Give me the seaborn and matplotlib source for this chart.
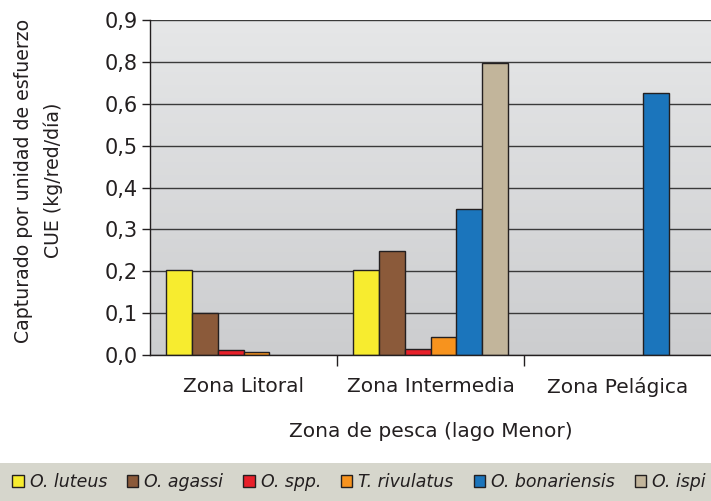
import numpy as np
import pandas as pd
import matplotlib
matplotlib.use("Agg")
import matplotlib.pyplot as plt
import seaborn as sns
from matplotlib.patches import Rectangle, Patch
from matplotlib.colors import LinearSegmentedColormap

zonas = ["Zona Litoral", "Zona Intermedia", "Zona Pelágica"]
especies = ["O. luteus", "O. agassi", "O. spp.", "T. rivulatus", "O. bonariensis", "O. ispi"]
colores = ["#F7EC2F", "#8B5A3A", "#E8202A", "#F7931E", "#1B75BC", "#C2B59B"]
litoral = [0.202, 0.100, 0.012, 0.0065, np.nan, np.nan]
intermedia = [0.202, 0.249, 0.0135, 0.043, 0.348, 0.697]
pelagica = [np.nan, np.nan, np.nan, np.nan, 0.625, np.nan]
# tick positions and the labels exactly as printed on the original chart
yticks = [0.0, 0.1, 0.2, 0.3, 0.4, 0.5, 0.6, 0.7, 0.8]
ytick_labels = ["0,0", "0,1", "0,2", "0,3", "0,4", "0,5", "0,6", "0,8", "0,9"]

rows = []
for z, vals in zip(zonas, [litoral, intermedia, pelagica]):
    for e, v in zip(especies, vals):
        rows.append({"zona": z, "especie": e, "cue": v})
df = pd.DataFrame(rows)

sns.set_theme(style="white")
plt.rcParams["font.family"] = ["DejaVu Sans"]

fig = plt.figure(figsize=(7.11, 5.01), dpi=100)
ax = fig.add_axes([150 / 711, 1 - 355 / 501, 561 / 711, 335 / 501])

grad = np.linspace(0, 1, 256).reshape(-1, 1)
cmap = LinearSegmentedColormap.from_list("bg", ["#CCCDCF", "#E6E7E8"])
ax.imshow(grad, extent=[0, 1, 0, 1], transform=ax.transAxes, cmap=cmap,
          origin="lower", aspect="auto", zorder=0)

sns.barplot(data=df, x="zona", y="cue", hue="especie", hue_order=especies,
            order=zonas, palette=colores, saturation=1, width=0.83, gap=0,
            edgecolor="#231F20", linewidth=1.0, ax=ax, legend=False,
            errorbar=None, zorder=3)

ax.set_xlim(-0.5, 2.5)
ax.set_ylim(0, 0.8)
ax.set_yticks(yticks)
ax.set_yticklabels(ytick_labels, fontsize=15, color="#231F20")
for y in yticks:
    ax.axhline(y, color="#3A3A3A", lw=1.0, zorder=1)
ax.tick_params(axis="y", direction="out", length=6, width=1, color="#231F20", pad=3, left=True)
ax.set_xticks([0, 1, 2])
ax.set_xticklabels(zonas, fontsize=14.5, color="#231F20")
ax.set_xticks([0.5, 1.5], minor=True)
ax.tick_params(axis="x", which="major", length=0, pad=16)
ax.tick_params(axis="x", which="minor", direction="out", length=8, width=1, color="#231F20", bottom=True)

for s in ["top", "right"]:
    ax.spines[s].set_visible(False)
for s in ["left", "bottom"]:
    ax.spines[s].set_color("#231F20")
    ax.spines[s].set_linewidth(1.0)
    ax.spines[s].set_zorder(4)

ax.set_xlabel("Zona de pesca (lago Menor)", fontsize=14.5, color="#231F20", labelpad=18)
ax.set_ylabel("Capturado por unidad de esfuerzo\nCUE (kg/red/día)", fontsize=13.6,
              color="#231F20", linespacing=1.65)
ax.yaxis.set_label_coords(-0.155, 0.52)

fig.patches.append(Rectangle((0, 0), 1, 38 / 501, transform=fig.transFigure,
                             facecolor="#D6D6CC", edgecolor="none", zorder=0))
handles = [Patch(facecolor=c, edgecolor="#231F20", linewidth=1.0) for c in colores]
leg = fig.legend(handles, especies, loc="center", bbox_to_anchor=(0.505, 19 / 501),
                 ncol=6, frameon=False, handlelength=0.65, handleheight=0.65,
                 handletextpad=0.35, columnspacing=1.15,
                 prop={"style": "italic", "size": 12.5})
for t in leg.get_texts():
    t.set_color("#231F20")

fig.savefig("out.png", dpi=100)
